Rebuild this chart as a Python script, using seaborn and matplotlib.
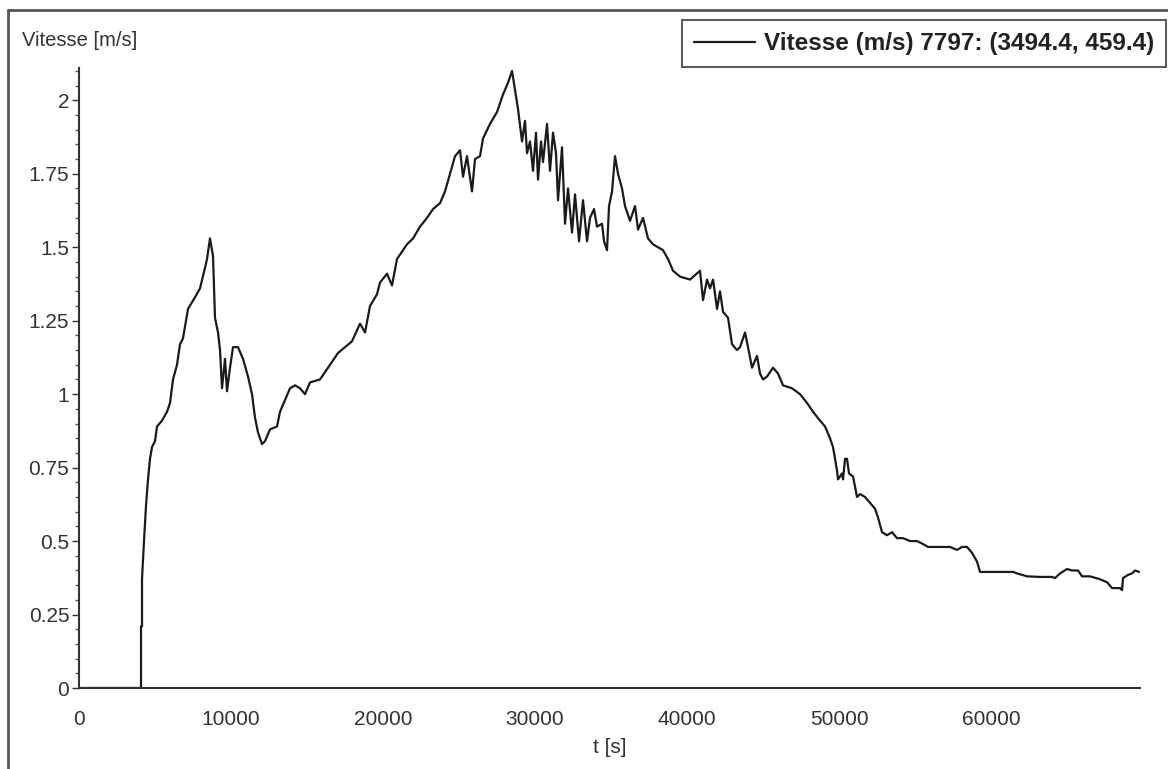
import numpy as np
import pandas as pd
import matplotlib
matplotlib.use("Agg")
import matplotlib.pyplot as plt
from matplotlib.lines import Line2D
from matplotlib.ticker import MultipleLocator, FuncFormatter
import seaborn as sns

# time [s] and speed [m/s]
t_s = [
    0, 4080, 4080, 4145, 4145, 4276, 4408, 4540, 4671, 4803, 5000, 5132, 5461, 5790,
    5987, 6184, 6447, 6645, 6842, 7171, 7632, 7961, 8290, 8421, 8618,
    8816, 8947, 9145, 9276, 9408, 9605, 9737, 9934, 10132, 10461, 10790, 11119,
    11382, 11579, 11776, 12040, 12237, 12566, 13026, 13224, 13553, 13882, 14211,
    14540, 14869, 15197, 15855, 16382, 17040, 17500, 17961, 18487, 18816, 19145,
    19605, 19803, 20263, 20592, 20921, 21579, 21974, 22434, 22895, 23290, 23750,
    24079, 24408, 24737, 25066, 25263, 25526, 25855, 26053, 26382, 26579, 27040,
    27500, 27895, 28224, 28487, 28882, 29145, 29342, 29474, 29671, 29868, 30066,
    30197, 30395, 30526, 30790, 30987, 31184, 31382, 31513, 31776, 31974, 32171,
    32434, 32632, 32895, 33158, 33421, 33618, 33882, 34079, 34408, 34540, 34737,
    34869, 35066, 35263, 35461, 35724, 35921, 36250, 36579, 36776, 37105, 37434,
    37763, 38421, 38750, 39079, 39540, 40197, 40855, 41053, 41316, 41513, 41711,
    41974, 42171, 42369, 42697, 42961, 43290, 43487, 43816, 44013, 44276, 44605,
    44803, 45000, 45263, 45658, 45987, 46316, 46908, 47434, 47895, 48290, 48750,
    49079, 49408, 49605, 49868, 49934, 50197, 50263, 50395, 50526, 50658, 50921,
    51184, 51382, 51711, 52040, 52369, 52566, 52829, 53158, 53487, 53816, 54211,
    54671, 55132, 55526, 55855, 56645, 57303, 57763, 58092, 58421, 58750, 59079,
    59276, 59737, 60592, 61448, 61711, 62369, 63224, 64013, 64211, 64540, 65000,
    65329, 65724, 65987, 66513, 67171, 67632, 67961, 68290, 68487, 68618, 68684,
    69013, 69276, 69474, 69737,
]
vitesse = [
    0, 0, 0.21, 0.21, 0.37, 0.50, 0.62, 0.71, 0.78, 0.82, 0.84, 0.89, 0.91, 0.94,
    0.97, 1.05, 1.10, 1.17, 1.19, 1.29, 1.33, 1.36, 1.43, 1.46, 1.53,
    1.47, 1.26, 1.21, 1.15, 1.02, 1.12, 1.01, 1.09, 1.16, 1.16, 1.12, 1.06,
    1.00, 0.92, 0.87, 0.83, 0.84, 0.88, 0.89, 0.94, 0.98, 1.02, 1.03,
    1.02, 1.00, 1.04, 1.05, 1.09, 1.14, 1.16, 1.18, 1.24, 1.21, 1.30,
    1.34, 1.38, 1.41, 1.37, 1.46, 1.51, 1.53, 1.57, 1.60, 1.63, 1.65,
    1.69, 1.75, 1.81, 1.83, 1.74, 1.81, 1.69, 1.80, 1.81, 1.87, 1.92,
    1.96, 2.02, 2.06, 2.10, 1.97, 1.86, 1.93, 1.82, 1.86, 1.76, 1.89,
    1.73, 1.86, 1.79, 1.92, 1.76, 1.89, 1.82, 1.66, 1.84, 1.58, 1.70,
    1.55, 1.68, 1.52, 1.66, 1.52, 1.60, 1.63, 1.57, 1.58, 1.52, 1.49,
    1.64, 1.69, 1.81, 1.75, 1.70, 1.64, 1.59, 1.64, 1.56, 1.60, 1.53,
    1.51, 1.49, 1.46, 1.42, 1.40, 1.39, 1.42, 1.32, 1.39, 1.36, 1.39,
    1.29, 1.35, 1.28, 1.26, 1.17, 1.15, 1.16, 1.21, 1.16, 1.09, 1.13,
    1.07, 1.05, 1.06, 1.09, 1.07, 1.03, 1.02, 1.00, 0.97, 0.94, 0.91,
    0.89, 0.85, 0.82, 0.74, 0.71, 0.73, 0.71, 0.78, 0.78, 0.73, 0.72,
    0.65, 0.66, 0.65, 0.63, 0.61, 0.58, 0.53, 0.52, 0.53, 0.51, 0.51,
    0.50, 0.50, 0.49, 0.48, 0.48, 0.48, 0.47, 0.48, 0.48, 0.46, 0.43,
    0.395, 0.395, 0.395, 0.395, 0.39, 0.38, 0.378, 0.378, 0.374, 0.39, 0.405,
    0.40, 0.40, 0.38, 0.38, 0.37, 0.36, 0.34, 0.34, 0.34, 0.333, 0.374,
    0.385, 0.39, 0.40, 0.395,
]

df = pd.DataFrame({"t": t_s, "v": vitesse})

sns.set_theme(style="white")
plt.rcParams["font.family"] = ["Liberation Sans", "DejaVu Sans"]

W, H = 1168, 769
fig = plt.figure(figsize=(W / 100, H / 100), dpi=100)
ax = fig.add_axes([79 / W, 1 - 688 / H, (1140 - 79) / W, (688 - 68) / H])

sns.lineplot(data=df, x="t", y="v", ax=ax, color="#1a1a1a", linewidth=1.6,
             estimator=None, sort=False,
             label="Vitesse (m/s) 7797: (3494.4, 459.4)")

ax.set_xlim(0, 69800)
ax.set_ylim(0, 2.11)
ax.set_xticks([0, 10000, 20000, 30000, 40000, 50000, 60000])
ax.yaxis.set_major_locator(MultipleLocator(0.25))
ax.yaxis.set_minor_locator(MultipleLocator(0.05))
ax.yaxis.set_major_formatter(FuncFormatter(lambda v, p: f"{v:g}"))

for side in ["top", "right"]:
    ax.spines[side].set_visible(False)
for side in ["left", "bottom"]:
    ax.spines[side].set_color("#333333")
    ax.spines[side].set_linewidth(1.5)

ax.tick_params(axis="y", which="major", direction="out", length=5, width=1,
               color="#333333", labelsize=15, labelcolor="#333333", pad=2, left=True)
ax.tick_params(axis="y", which="minor", direction="out", length=3, width=1,
               color="#555555", left=True)
ax.tick_params(axis="x", length=0, labelsize=15, labelcolor="#333333", pad=16)

ax.set_xlabel("t [s]", fontsize=15, color="#333333", labelpad=6)
ax.set_ylabel("")
fig.text(22 / W, 1 - 40 / H, "Vitesse [m/s]", fontsize=14.5, color="#333333", va="center")

leg = ax.legend(loc="upper right", bbox_to_anchor=(1166 / W, 1 - 20 / H),
                bbox_transform=fig.transFigure, borderaxespad=0, frameon=True,
                fancybox=False, handlelength=2.5, handletextpad=0.35,
                borderpad=0.5, prop={"weight": "bold", "size": 17.5})
leg.get_frame().set_edgecolor("#333333")
leg.get_frame().set_linewidth(1.5)
for txt in leg.get_texts():
    txt.set_color("#222222")

# window frame
fig.add_artist(Line2D([8 / W, 1], [1 - 10 / H, 1 - 10 / H], transform=fig.transFigure,
                      color="#555555", linewidth=2))
fig.add_artist(Line2D([8 / W, 8 / W], [0, 1 - 10 / H], transform=fig.transFigure,
                      color="#555555", linewidth=2))

fig.savefig("out.png", dpi=100)
